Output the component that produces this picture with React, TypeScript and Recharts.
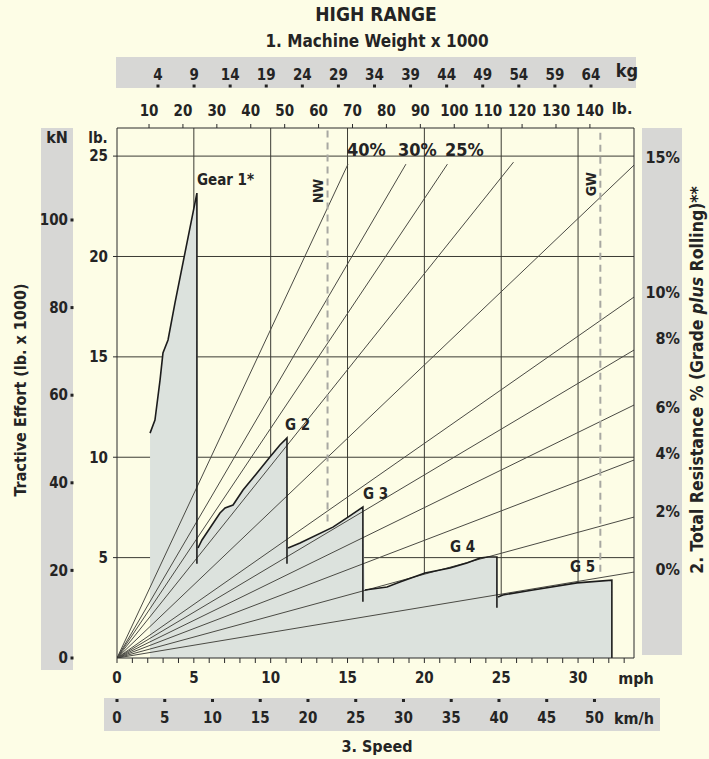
import React from "react";
import {
  ComposedChart,
  XAxis,
  YAxis,
  CartesianGrid,
  Area,
  Line,
  ReferenceLine,
  ReferenceDot
} from "recharts";

const FONT = "'Liberation Sans Narrow', 'DejaVu Sans Condensed', 'Arial Narrow', sans-serif";
const INK = "#242424";
const BG = "#fdfde6";
const BAND = "#d7d7d5";
const FILL = "#dce2dd";

// axes
const mphDomain = [0, 33.64];
const mphTicks = [0, 1, 2, 3, 4, 5, 6, 7, 8, 9, 10, 11, 12, 13, 14, 15, 16, 17, 18, 19, 20, 21, 22, 23, 24, 25, 26, 27, 28, 29, 30, 31, 32, 33];
const mphGrid = [5, 10, 15, 20, 25, 30];
const kmhDomain = [0, 54.14];
const kmhTicks = [0, 5, 10, 15, 20, 25, 30, 35, 40, 45, 50];
const lbDomain = [0, 26.4];
const lbTicks = [5, 10, 15, 20, 25];
const kNDomain = [0, 121];
const kNTicks = [0, 20, 40, 60, 80, 100];
const weightLbDomain = [0.56, 153];
const weightLbTicks = [10, 20, 30, 40, 50, 60, 70, 80, 90, 100, 110, 120, 130, 140];
const weightKgDomain = [-1.68, 69.96];
const weightKgTicks = [4, 9, 14, 19, 24, 29, 34, 39, 44, 49, 54, 59, 64];

// total resistance lines (mph, lb x 1000 at the line end)
const gradeNames = ["40%", "30%", "25%", "20%", "15%", "10%", "8%", "6%", "4%", "2%", "0%"];
const gradeEndMph = [15.03, 18.8, 21.5, 25.8, 33.64, 33.64, 33.64, 33.64, 33.64, 33.64, 33.64];
const gradeEndLb = [24.6, 24.6, 24.6, 24.7, 24.55, 17.98, 15.34, 12.6, 9.86, 7.02, 4.28];

const resistanceLabels = ["15%", "10%", "8%", "6%", "4%", "2%", "0%"];
const resistanceLabelLb = [24.95, 18.2, 15.9, 12.5, 10.2, 7.3, 4.4];

const topGradeLabels = ["40%", "30%", "25%"];
const topGradeLabelMph = [14.96, 18.28, 21.34];
const topGradeLabelLb = 25.3;

// rimpull curves [mph, lb x 1000]
const gear1 = [[2.15, 11.2], [2.47, 11.85], [2.8, 13.84], [2.99, 15.19], [3.32, 15.84], [3.77, 17.68], [4.42, 20.17], [5.2, 23.16]];
const gear2 = [[5.27, 5.48], [5.53, 5.88], [6.7, 7.22], [7.03, 7.47], [7.55, 7.62], [8.2, 8.37], [9.11, 9.21], [9.95, 10.01], [10.6, 10.61], [11.06, 10.96]];
const gear3 = [[11.13, 5.48], [11.91, 5.73], [14.05, 6.52], [15.03, 7.02], [16.0, 7.52]];
const gear4 = [[16.13, 3.39], [17.57, 3.54], [18.41, 3.78], [20.04, 4.23], [21.67, 4.48], [22.77, 4.73], [23.62, 4.98], [24.14, 5.03], [24.72, 5.03]];
const gear5 = [[24.79, 3.04], [25.11, 3.14], [27.07, 3.39], [29.93, 3.74], [32.2, 3.88]];
const gearDropTo = [4.7, 4.7, 2.8, 2.5, 0];

const gearLabels = ["Gear 1*", "G 2", "G 3", "G 4", "G 5"];
const gearLabelMph = [5.2, 10.93, 16.0, 21.67, 29.47];
const gearLabelLb = [23.8, 11.6, 8.17, 5.53, 4.53];

// machine weight markers
const weightMarkers = ["NW", "GW"];
const weightMarkerMph = [13.7, 31.45];
const weightMarkerFromLb = [6.8, 4.3];
const weightMarkerLabelMph = [13.08, 30.84];
const weightMarkerLabelLb = [23.26, 23.6];

const gears = [gear1, gear2, gear3, gear4, gear5];

// axis ids: recharts puts the id that sorts first next to the plot
const X_MPH = "x1";
const X_KMH = "x2";
const T_LB = "t1";
const T_KG = "t2";
const Y_LB = "y1";
const Y_KN = "y2";
const Y_RES = "yr";

const KgTick = (p: any) => (
  <g>
    <rect x={p.x - 1.5} y={p.y - 3.5} width={3} height={3} fill={INK} />
    <text x={p.x} y={p.y - 8} textAnchor="middle" fontFamily={FONT} fontWeight="bold" fontSize={15} fill={INK}>
      {p.payload.value}
    </text>
  </g>
);

const KmhTick = (p: any) => (
  <g>
    <rect x={p.x - 1.5} y={p.y + 1} width={3} height={3} fill={INK} />
    <text x={p.x} y={p.y + 25} textAnchor="middle" fontFamily={FONT} fontWeight="bold" fontSize={15} fill={INK}>
      {p.payload.value}
    </text>
  </g>
);

const KNTick = (p: any) => (
  <g>
    <rect x={p.x - 10.5} y={p.y - 1.5} width={3} height={3} fill={INK} />
    <text x={p.x - 13} y={p.y} dy="0.35em" textAnchor="end" fontFamily={FONT} fontWeight="bold" fontSize={15} fill={INK}>
      {p.payload.value}
    </text>
  </g>
);

const ResTick = (p: any) => {
  const i = resistanceLabelLb.indexOf(p.payload.value);
  return (
    <text x={p.x + 46} y={p.y} dy="0.35em" textAnchor="end" fontFamily={FONT} fontWeight="bold" fontSize={16} fill={INK}>
      {resistanceLabels[i]}
    </text>
  );
};

const tickStyle = { fill: INK, fontSize: 15, fontFamily: FONT, fontWeight: "bold" };

export default function App() {
  const fillData = gears.flat().map(([mph, lb]) => ({ mph, lb }));
  const gearLines = gears.map((g, i) => {
    const pts = g.map(([mph, lb]) => ({ mph, lb }));
    pts.push({ mph: g[g.length - 1][0], lb: gearDropTo[i] });
    return pts;
  });
  // invisible series so the secondary x scales get built
  const helperAxes = [
    { id: X_KMH, dom: kmhDomain },
    { id: T_LB, dom: weightLbDomain },
    { id: T_KG, dom: weightKgDomain }
  ];

  return (
    <div style={{ position: "absolute", left: 0, top: 0, width: 709, height: 759, background: BG, overflow: "hidden" }}>
      <svg width={709} height={759} style={{ position: "absolute", left: 0, top: 0 }}>
        <rect x={116} y={57} width={520} height={31} fill={BAND} />
        <rect x={41} y={128} width={32} height={542} fill={BAND} />
        <rect x={642} y={128} width={40} height={527} fill={BAND} />
        <rect x={104} y={698} width={556} height={33} fill={BAND} />
      </svg>
      <div style={{ position: "absolute", left: 0, top: 0 }}>
        <ComposedChart width={709} height={759} margin={{ top: 57, right: 0, bottom: 28, left: 36 }}>
          <CartesianGrid
            xAxisId={X_MPH}
            yAxisId={Y_LB}
            horizontalValues={lbTicks}
            verticalValues={mphGrid}
            stroke="#3c3c34"
            strokeWidth={1}
          />
          <XAxis
            xAxisId={X_MPH}
            dataKey="mph"
            type="number"
            orientation="bottom"
            domain={mphDomain}
            allowDataOverflow
            ticks={mphTicks}
            interval={0}
            height={40}
            tickSize={5}
            tickMargin={9}
            tickFormatter={(v: number) => (v % 5 === 0 ? String(v) : "")}
            tick={tickStyle}
            stroke="#2a2a2a"
          />
          <XAxis
            xAxisId={X_KMH}
            dataKey="x"
            type="number"
            orientation="bottom"
            domain={kmhDomain}
            allowDataOverflow
            ticks={kmhTicks}
            interval={0}
            height={33}
            tickSize={0}
            tickMargin={0}
            axisLine={false}
            tickLine={false}
            tick={<KmhTick />}
          />
          <XAxis
            xAxisId={T_LB}
            dataKey="x"
            type="number"
            orientation="top"
            domain={weightLbDomain}
            allowDataOverflow
            ticks={weightLbTicks}
            interval={0}
            height={40}
            tickSize={4}
            tickMargin={8}
            tick={tickStyle}
            stroke="#2a2a2a"
          />
          <XAxis
            xAxisId={T_KG}
            dataKey="x"
            type="number"
            orientation="top"
            domain={weightKgDomain}
            allowDataOverflow
            ticks={weightKgTicks}
            interval={0}
            height={31}
            tickSize={0}
            tickMargin={0}
            axisLine={false}
            tickLine={false}
            tick={<KgTick />}
          />
          <YAxis
            yAxisId={Y_LB}
            type="number"
            orientation="left"
            domain={lbDomain}
            allowDataOverflow
            ticks={lbTicks}
            interval={0}
            width={36}
            tickSize={4}
            tickMargin={5}
            tick={tickStyle}
            stroke="#2a2a2a"
          />
          <YAxis
            yAxisId={Y_KN}
            type="number"
            orientation="left"
            domain={kNDomain}
            allowDataOverflow
            ticks={kNTicks}
            interval={0}
            width={45}
            tickSize={0}
            tickMargin={0}
            axisLine={false}
            tickLine={false}
            tick={<KNTick />}
          />
          <YAxis
            yAxisId={Y_RES}
            type="number"
            orientation="right"
            domain={lbDomain}
            allowDataOverflow
            ticks={resistanceLabelLb}
            interval={0}
            width={75}
            tickSize={0}
            tickMargin={0}
            tickLine={false}
            tick={<ResTick />}
            stroke="#2a2a2a"
          />

          {helperAxes.map((h) => (
            <Line
              key={"h" + h.id}
              xAxisId={h.id}
              yAxisId={Y_LB}
              data={[{ x: h.dom[0], lb: 0 }, { x: h.dom[1], lb: 0 }]}
              dataKey="lb"
              stroke="none"
              dot={false}
              activeDot={false}
              isAnimationActive={false}
            />
          ))}

          <Area
            xAxisId={X_MPH}
            yAxisId={Y_LB}
            data={fillData}
            dataKey="lb"
            type="linear"
            fill={FILL}
            fillOpacity={1}
            stroke="none"
            isAnimationActive={false}
          />

          {gradeNames.map((name, i) => (
            <Line
              key={name}
              xAxisId={X_MPH}
              yAxisId={Y_LB}
              data={[{ mph: 0, lb: 0 }, { mph: gradeEndMph[i], lb: gradeEndLb[i] }]}
              dataKey="lb"
              type="linear"
              stroke="#4a4a44"
              strokeWidth={1}
              dot={false}
              activeDot={false}
              isAnimationActive={false}
            />
          ))}

          {gearLines.map((pts, i) => (
            <Line
              key={gearLabels[i]}
              xAxisId={X_MPH}
              yAxisId={Y_LB}
              data={pts}
              dataKey="lb"
              type="linear"
              stroke="#1c1c1c"
              strokeWidth={1.6}
              dot={false}
              activeDot={false}
              isAnimationActive={false}
            />
          ))}

          {weightMarkers.map((m, i) => (
            <ReferenceLine
              key={m}
              xAxisId={X_MPH}
              yAxisId={Y_LB}
              segment={[
                { x: weightMarkerMph[i], y: weightMarkerFromLb[i] },
                { x: weightMarkerMph[i], y: lbDomain[1] }
              ]}
              stroke="#a8a8a2"
              strokeWidth={2}
              strokeDasharray="7 5"
            />
          ))}

          {weightMarkers.map((m, i) => (
            <ReferenceDot
              key={"lbl" + m}
              xAxisId={X_MPH}
              yAxisId={Y_LB}
              x={weightMarkerLabelMph[i]}
              y={weightMarkerLabelLb[i]}
              r={0}
              shape={(p: any) => (
                <text
                  x={p.cx}
                  y={p.cy}
                  dy="0.35em"
                  transform={`rotate(-90 ${p.cx} ${p.cy})`}
                  textAnchor="middle"
                  fontFamily={FONT}
                  fontWeight="bold"
                  fontSize={14}
                  fill={INK}
                >
                  {m}
                </text>
              )}
            />
          ))}

          {gearLabels.map((g, i) => (
            <ReferenceDot
              key={"g" + g}
              xAxisId={X_MPH}
              yAxisId={Y_LB}
              x={gearLabelMph[i]}
              y={gearLabelLb[i]}
              r={0}
              shape={(p: any) => (
                <text x={p.cx} y={p.cy} dy="0.35em" textAnchor="start" fontFamily={FONT} fontWeight="bold" fontSize={15} fill={INK}>
                  {g}
                </text>
              )}
            />
          ))}

          {topGradeLabels.map((g, i) => (
            <ReferenceDot
              key={"t" + g}
              xAxisId={X_MPH}
              yAxisId={Y_LB}
              x={topGradeLabelMph[i]}
              y={topGradeLabelLb}
              r={0}
              shape={(p: any) => (
                <text x={p.cx} y={p.cy} dy="0.35em" textAnchor="start" fontFamily={FONT} fontWeight="bold" fontSize={18} fill={INK}>
                  {g}
                </text>
              )}
            />
          ))}
        </ComposedChart>
      </div>
      <svg width={709} height={759} style={{ position: "absolute", left: 0, top: 0, pointerEvents: "none" }}>
        <g fontFamily={FONT} fontWeight="bold" fill={INK}>
          <text x={376} y={21} textAnchor="middle" fontSize={19}>HIGH RANGE</text>
          <text x={377} y={47} textAnchor="middle" fontSize={17}>1. Machine Weight x 1000</text>
          <text x={627} y={77} textAnchor="middle" fontSize={18}>kg</text>
          <text x={622} y={114} textAnchor="middle" fontSize={16}>lb.</text>
          <text x={57} y={143} textAnchor="middle" fontSize={16}>kN</text>
          <text x={98} y={143} textAnchor="middle" fontSize={15}>lb.</text>
          <text x={636} y={684} textAnchor="middle" fontSize={16}>mph</text>
          <text x={634} y={724} textAnchor="middle" fontSize={16}>km/h</text>
          <text x={377} y={752} textAnchor="middle" fontSize={16}>3. Speed</text>
          <text x={20} y={390} dy="0.35em" textAnchor="middle" fontSize={16} transform="rotate(-90 20 390)">
            Tractive Effort (lb. x 1000)
          </text>
          <text x={697} y={380} dy="0.35em" textAnchor="middle" fontSize={17.5} transform="rotate(-90 697 380)">
            2. Total Resistance % (Grade <tspan fontStyle="italic">plus</tspan> Rolling)**
          </text>
        </g>
      </svg>
    </div>
  );
}
